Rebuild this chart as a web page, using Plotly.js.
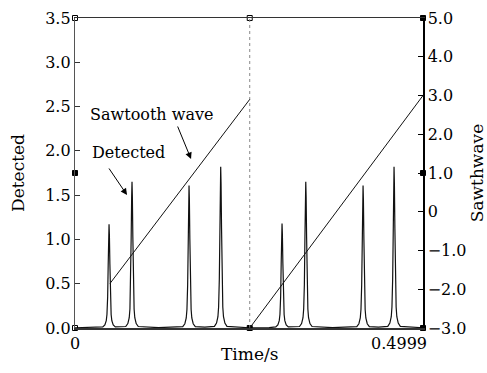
<!DOCTYPE html>
<html>
<head>
<meta charset="utf-8">
<script src="https://cdn.plot.ly/plotly-3.0.1.min.js"></script>
<style>html,body{margin:0;padding:0;background:#fff;}#chart{width:487px;height:373px;}</style>
</head>
<body>
<div id="chart"></div>
<script>
// Detected signal (left axis), time in s
const detTime = [
  0.0000, 0.0300,
  0.0399,0.0429,0.0449,0.0459,0.0469,0.0477,0.0484,0.0489,0.0494,0.0501,0.0509,0.0519,0.0529,0.0549,0.0579,
  0.0654,
  0.0729,0.0759,0.0779,0.0789,0.0799,0.0807,0.0814,0.0819,0.0824,0.0831,0.0839,0.0849,0.0859,0.0879,0.0909,
  0.1200,
  0.1548,0.1578,0.1598,0.1608,0.1618,0.1626,0.1633,0.1638,0.1643,0.1650,0.1658,0.1668,0.1678,0.1698,0.1728,
  0.1865,
  0.2003,0.2033,0.2053,0.2063,0.2073,0.2081,0.2088,0.2093,0.2098,0.2105,0.2113,0.2123,0.2133,0.2153,0.2183,
  0.2500, 0.2790,
  0.2884,0.2914,0.2934,0.2944,0.2954,0.2962,0.2969,0.2974,0.2979,0.2986,0.2994,0.3004,0.3014,0.3034,0.3064,
  0.3145,
  0.3225,0.3255,0.3275,0.3285,0.3295,0.3303,0.3310,0.3315,0.3320,0.3327,0.3335,0.3345,0.3355,0.3375,0.3405,
  0.3700,
  0.4048,0.4078,0.4098,0.4108,0.4118,0.4126,0.4133,0.4138,0.4143,0.4150,0.4158,0.4168,0.4178,0.4198,0.4228,
  0.4360,
  0.4493,0.4523,0.4543,0.4553,0.4563,0.4571,0.4578,0.4583,0.4588,0.4595,0.4603,0.4613,0.4623,0.4643,0.4673,
  0.4999
];
const detValue = [
  0.003, 0.004,
  0.012,0.035,0.082,0.152,0.351,0.725,1.053,1.170,1.053,0.725,0.351,0.152,0.082,0.035,0.012,
  0.012,
  0.017,0.050,0.116,0.215,0.495,1.023,1.485,1.650,1.485,1.023,0.495,0.215,0.116,0.050,0.017,
  0.004,
  0.016,0.048,0.113,0.209,0.483,0.998,1.449,1.610,1.449,0.998,0.483,0.209,0.113,0.048,0.016,
  0.010,
  0.018,0.055,0.127,0.237,0.546,1.128,1.638,1.820,1.638,1.128,0.546,0.237,0.127,0.055,0.018,
  0.003, 0.004,
  0.012,0.035,0.083,0.153,0.354,0.732,1.062,1.180,1.062,0.732,0.354,0.153,0.083,0.035,0.012,
  0.012,
  0.017,0.050,0.116,0.215,0.495,1.023,1.485,1.650,1.485,1.023,0.495,0.215,0.116,0.050,0.017,
  0.004,
  0.016,0.048,0.113,0.209,0.483,0.998,1.449,1.610,1.449,0.998,0.483,0.209,0.113,0.048,0.016,
  0.010,
  0.018,0.055,0.127,0.237,0.546,1.128,1.638,1.820,1.638,1.128,0.546,0.237,0.127,0.055,0.018,
  0.003
];

// Sawtooth wave (right axis)
const sawTime1 = [0.0503, 0.2510];
const sawValue1 = [-1.85, 2.90];
const sawTime2 = [0.2510, 0.4999];
const sawValue2 = [-3.0, 3.0];
const dropTime = [0.2510, 0.2510];
const dropValue = [-3.0, 5.0];

// Small handle markers seen on the frame
const handleTime = [0, 0, 0.2510, 0.2510, 0, 0.4999, 0.4999, 0.4999];
const handleValue = [0, 3.5, 3.5, 0, 1.75, 3.5, 0, 1.75];
const handleSymbol = ['square-open','square-open','square-open','square','square','square','square','square'];

// Tick labels
const leftTicks = [0, 0.5, 1.0, 1.5, 2.0, 2.5, 3.0, 3.5];
const rightTicks = [-3, -2, -1, 0, 1, 2, 3, 4, 5];
const rightTickText = ['\u22123.0','\u22122.0','\u22121.0','0','1.0','2.0','3.0','4.0','5.0'];
const xTickVals = [0];
const xTickText = ['0'];
const xEndLabel = '0.4999';

const FONT = 'DejaVu Serif';

const traces = [
  {x: dropTime, y: dropValue, yaxis: 'y2', mode: 'lines', line: {color: '#888', width: 1, dash: 'dot'}, hoverinfo: 'skip'},
  {x: detTime, y: detValue, mode: 'lines', line: {color: '#111', width: 1.2}},
  {x: sawTime1, y: sawValue1, yaxis: 'y2', mode: 'lines', line: {color: '#111', width: 1}},
  {x: sawTime2, y: sawValue2, yaxis: 'y2', mode: 'lines', line: {color: '#111', width: 1}},
  {x: handleTime, y: handleValue, mode: 'markers', cliponaxis: false,
   marker: {symbol: handleSymbol, size: 5, color: '#000', line: {color: '#000', width: 1}}}
];

const layout = {
  width: 487, height: 373,
  margin: {l: 75, r: 64, t: 18, b: 45, pad: 0},
  paper_bgcolor: '#fff', plot_bgcolor: '#fff',
  showlegend: false,
  font: {family: FONT, size: 16, color: '#000'},
  xaxis: {
    range: [0, 0.4999], showgrid: false, zeroline: false,
    showline: true, mirror: true, linecolor: '#333', linewidth: 1.5,
    ticks: '', tickvals: xTickVals, ticktext: xTickText,
    tickfont: {family: FONT, size: 16}
  },
  yaxis: {
    range: [0, 3.5], showgrid: false, zeroline: false,
    showline: true, linecolor: '#555', linewidth: 1.2,
    ticks: 'inside', ticklen: 5, tickcolor: '#333',
    tickvals: leftTicks, tickformat: '.1f',
    tickfont: {family: FONT, size: 16},
    title: {text: 'Detected', font: {family: FONT, size: 17}, standoff: 16}
  },
  yaxis2: {
    range: [-3, 5], overlaying: 'y', side: 'right', showgrid: false, zeroline: false,
    showline: true, linecolor: '#000', linewidth: 1.5,
    ticks: 'inside', ticklen: 5, tickcolor: '#000',
    tickvals: rightTicks, ticktext: rightTickText,
    tickfont: {family: FONT, size: 16},
    title: {text: 'Sawthwave', font: {family: FONT, size: 17}, standoff: 8}
  },
  annotations: [
    {xref: 'paper', yref: 'paper', x: 0.5, y: 0, xanchor: 'center', yanchor: 'middle', yshift: -26,
     text: 'Time/s', showarrow: false, font: {family: FONT, size: 17}},
    {xref: 'paper', yref: 'paper', x: 1, y: 0, xanchor: 'right', yanchor: 'top', xshift: 6, yshift: -4,
     text: xEndLabel, showarrow: false, font: {family: FONT, size: 16}},
    {x: 0.0187, y: 2.405, xanchor: 'left', yanchor: 'middle', text: 'Sawtooth wave', showarrow: false,
     font: {family: FONT, size: 16}},
    {x: 0.0216, y: 1.976, xanchor: 'left', yanchor: 'middle', text: 'Detected', showarrow: false,
     font: {family: FONT, size: 16}},
    {x: 0.1667, y: 1.908, text: '', showarrow: true, ax: -14, ay: -34,
     arrowhead: 2, arrowsize: 1.3, arrowwidth: 1, arrowcolor: '#000'},
    {x: 0.0747, y: 1.502, text: '', showarrow: true, ax: -19, ay: -28,
     arrowhead: 2, arrowsize: 1.3, arrowwidth: 1, arrowcolor: '#000'}
  ]
};

Plotly.newPlot('chart', traces, layout, {displayModeBar: false, staticPlot: true});
</script>
</body>
</html>
